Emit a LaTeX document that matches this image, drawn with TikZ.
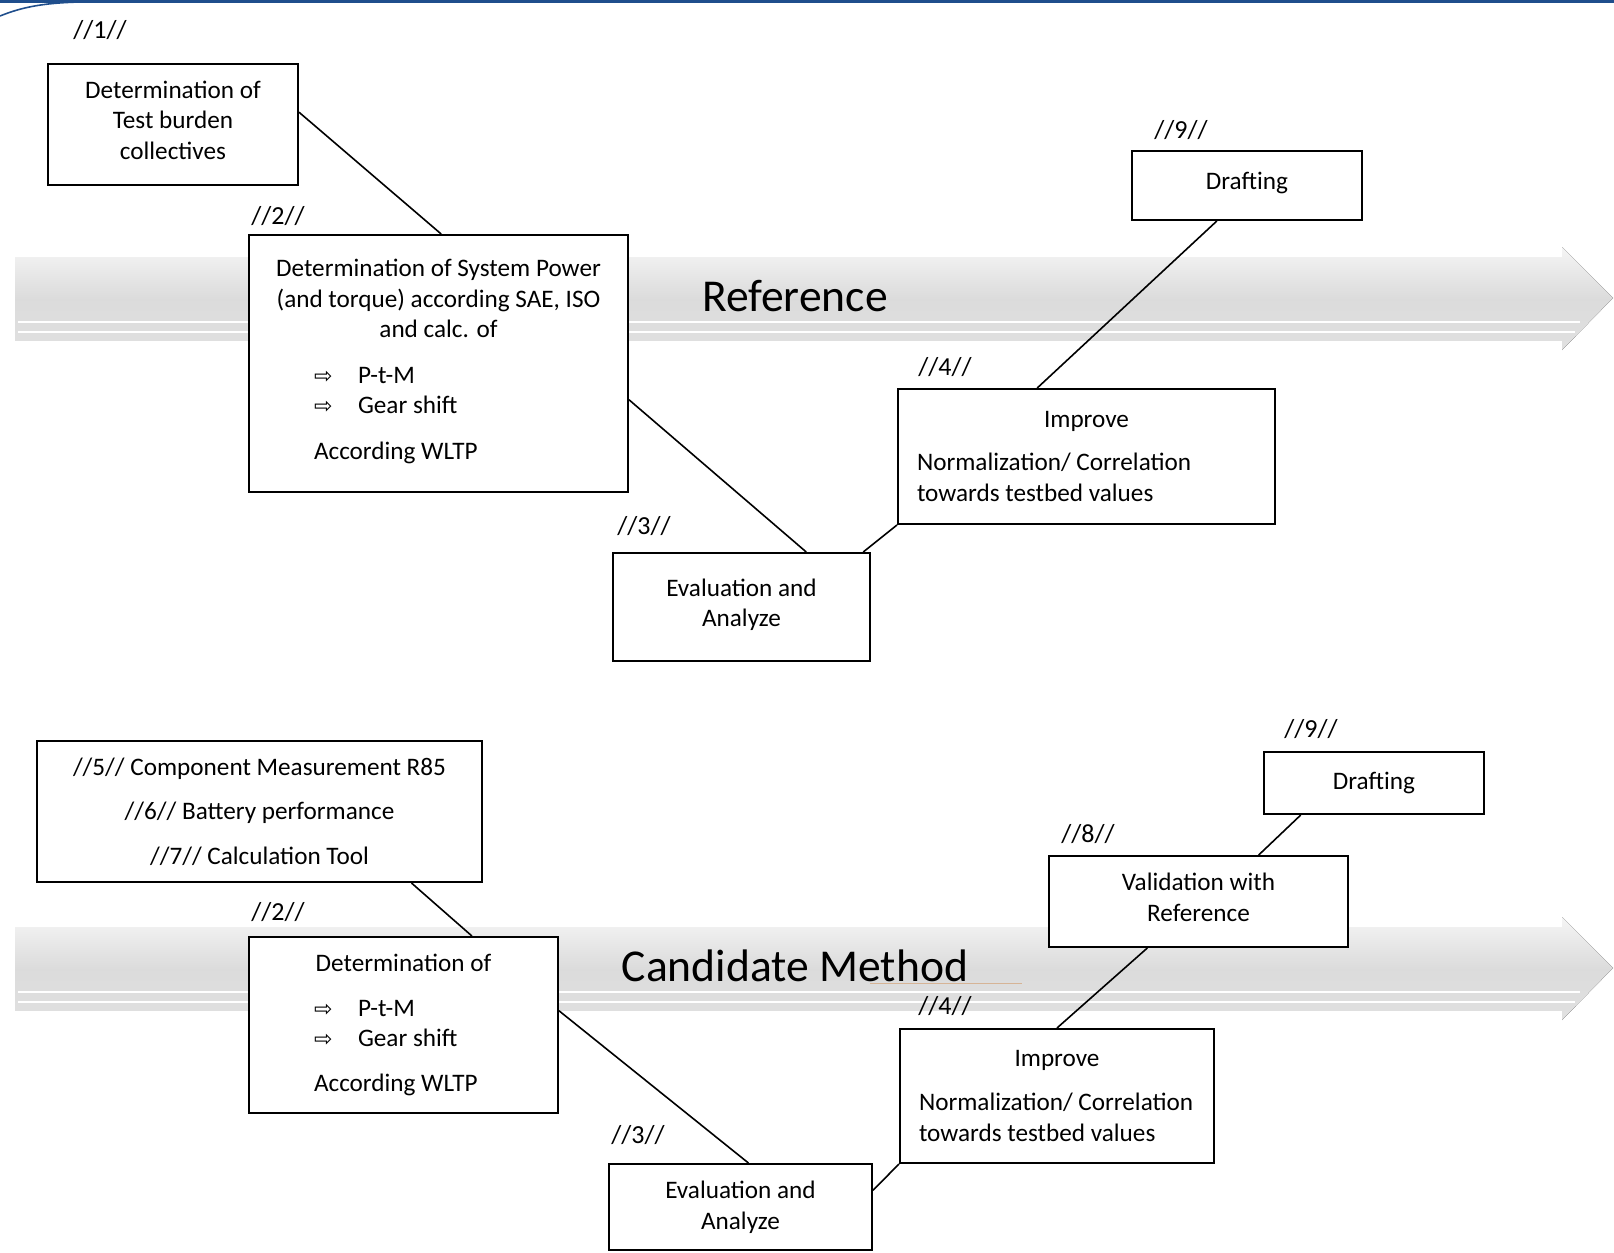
\documentclass[tikz,border=0pt]{standalone}
\usepackage{fontspec}
\setmainfont{Carlito}
\newfontfamily\symfont{DejaVu Sans}
\usetikzlibrary{calc}

\definecolor{slideblue}{RGB}{31,78,140}
\definecolor{tanline}{RGB}{214,180,150}

\newcommand{\arritem}[1]{\makebox[22pt][l]{\symfont\fontsize{11}{11}\selectfont ⇨}#1}

\tikzset{
  box/.style={draw, line width=1pt, fill=white, inner sep=0pt, align=center,
    font=\fontsize{12.6}{15.3}\selectfont},
  tag/.style={inner sep=1pt, font=\fontsize{13}{14}\selectfont},
  phase/.style={inner sep=0pt, font=\fontsize{22.8}{26}\selectfont},
  band/.style={draw=none, top color=gray!8, bottom color=gray!24, middle color=gray!28},
  link/.style={line width=0.8pt},
}

\begin{document}
\begin{tikzpicture}[x=0.5pt, y=-0.5pt]
\useasboundingbox (0,0) rectangle (1614,1253);
% slide frame at the top
\fill[slideblue] (0,0) rectangle (1614,3);
\draw[slideblue, line width=0.8pt] (0,16) .. controls (20,8) and (40,3) .. (80,2);

% the two timeline arrows
\fill[band] (15,257) -- (1562,257) -- (1562,247) -- (1613,298) -- (1562,350) -- (1562,340) -- (15,340) -- cycle;
\draw[white, line width=0.6pt] (18,322) -- (1580,322);
\draw[white, line width=0.6pt] (18,332) -- (1575,332);
\fill[band] (15,927) -- (1562,927) -- (1562,917) -- (1613,968) -- (1562,1020) -- (1562,1010) -- (15,1010) -- cycle;
\draw[white, line width=0.6pt] (18,992) -- (1580,992);
\draw[white, line width=0.6pt] (18,1002) -- (1575,1002);
\draw[tanline, line width=0.5pt] (870,983) -- (1022,983);

\node[phase] (ref) at (795,296) {Reference};
\node[phase] (cand) at (795,966) {Candidate Method};

% Reference
\node[box, minimum width=125pt, minimum height=60.5pt] (r1) at (173,124.5)
  {Determination of\\Test burden\\collectives\\[-11pt]};
\node[box, minimum width=189.5pt, minimum height=128.5pt] (r2) at (438.5,363.5)
  {Determination of System Power\\(and torque) according SAE, ISO\\and calc. of\\[7.5pt]
   \makebox[124.5pt][l]{\arritem{P-t-M}}\\
   \makebox[124.5pt][l]{\arritem{Gear shift}}\\[7.5pt]
   \makebox[124.5pt][l]{According WLTP}\\[-11pt]};
\node[box, minimum width=128.5pt, minimum height=54pt] (r3) at (741.5,607)
  {Evaluation and\\Analyze\\[-11pt]};
\node[box, minimum width=188.5pt, minimum height=67.5pt] (r4) at (1086.5,456.5)
  {Improve\\[6.5pt]
   \makebox[169.5pt][l]{Normalization/ Correlation}\\
   \makebox[169.5pt][l]{towards testbed values}};
\node[box, minimum width=115pt, minimum height=34.5pt] (r9) at (1247,185.5) {Drafting\\[-11pt]};

\node[tag] (t1) at (100,30) {//1//};
\node[tag] (t2) at (278,216) {//2//};
\node[tag] (t3) at (644,526) {//3//};
\node[tag] (t4) at (945,367) {//4//};
\node[tag] (t9) at (1181,130) {//9//};

\draw[link] ($(r1.north east)!.40!(r1.south east)$) -- ($(r2.north west)!.507!(r2.north east)$);
\draw[link] ($(r2.north east)!.64!(r2.south east)$) -- ($(r3.north west)!.75!(r3.north east)$);
\draw[link] ($(r3.north west)!.97!(r3.north east)$) -- (r4.south west);
\draw[link] ($(r4.north west)!.37!(r4.north east)$) -- ($(r9.south west)!.37!(r9.south east)$);

% Candidate Method
\node[box, minimum width=222.5pt, minimum height=70.5pt] (c57) at (259.5,811.5)
  {//5// Component Measurement R85\\[7pt]//6// Battery performance\\[7pt]//7// Calculation Tool};
\node[box, minimum width=154.5pt, minimum height=88pt] (c2) at (403.5,1025)
  {Determination of\\[7pt]
   \makebox[89.5pt][l]{\arritem{P-t-M}}\\
   \makebox[89.5pt][l]{\arritem{Gear shift}}\\[7pt]
   \makebox[89.5pt][l]{According WLTP}};
\node[box, minimum width=131.5pt, minimum height=43pt] (c3) at (740.5,1207)
  {Evaluation and\\Analyze};
\node[box, minimum width=157pt, minimum height=67pt] (c4) at (1057,1096)
  {Improve\\[6.5pt]
   \makebox[138pt][l]{Normalization/ Correlation}\\
   \makebox[138pt][l]{towards testbed values}};
\node[box, minimum width=149.5pt, minimum height=45.5pt] (c8) at (1198.5,901.5)
  {Validation with\\Reference\\[-11pt]};
\node[box, minimum width=110pt, minimum height=31pt] (c9) at (1374,783) {Drafting};

\node[tag] (u2) at (278,912) {//2//};
\node[tag] (u3) at (638,1135) {//3//};
\node[tag] (u4) at (945,1006) {//4//};
\node[tag] (u8) at (1088,834) {//8//};
\node[tag] (u9) at (1311,729) {//9//};

\draw[link] ($(c57.south west)!.84!(c57.south east)$) -- ($(c2.north west)!.72!(c2.north east)$);
\draw[link] ($(c2.north east)!.42!(c2.south east)$) -- ($(c3.north west)!.53!(c3.north east)$);
\draw[link] ($(c3.north east)!.31!(c3.south east)$) -- (c4.south west);
\draw[link] ($(c4.north west)!.50!(c4.north east)$) -- ($(c8.south west)!.33!(c8.south east)$);
\draw[link] ($(c8.north west)!.70!(c8.north east)$) -- ($(c9.south west)!.17!(c9.south east)$);
\end{tikzpicture}
\end{document}
